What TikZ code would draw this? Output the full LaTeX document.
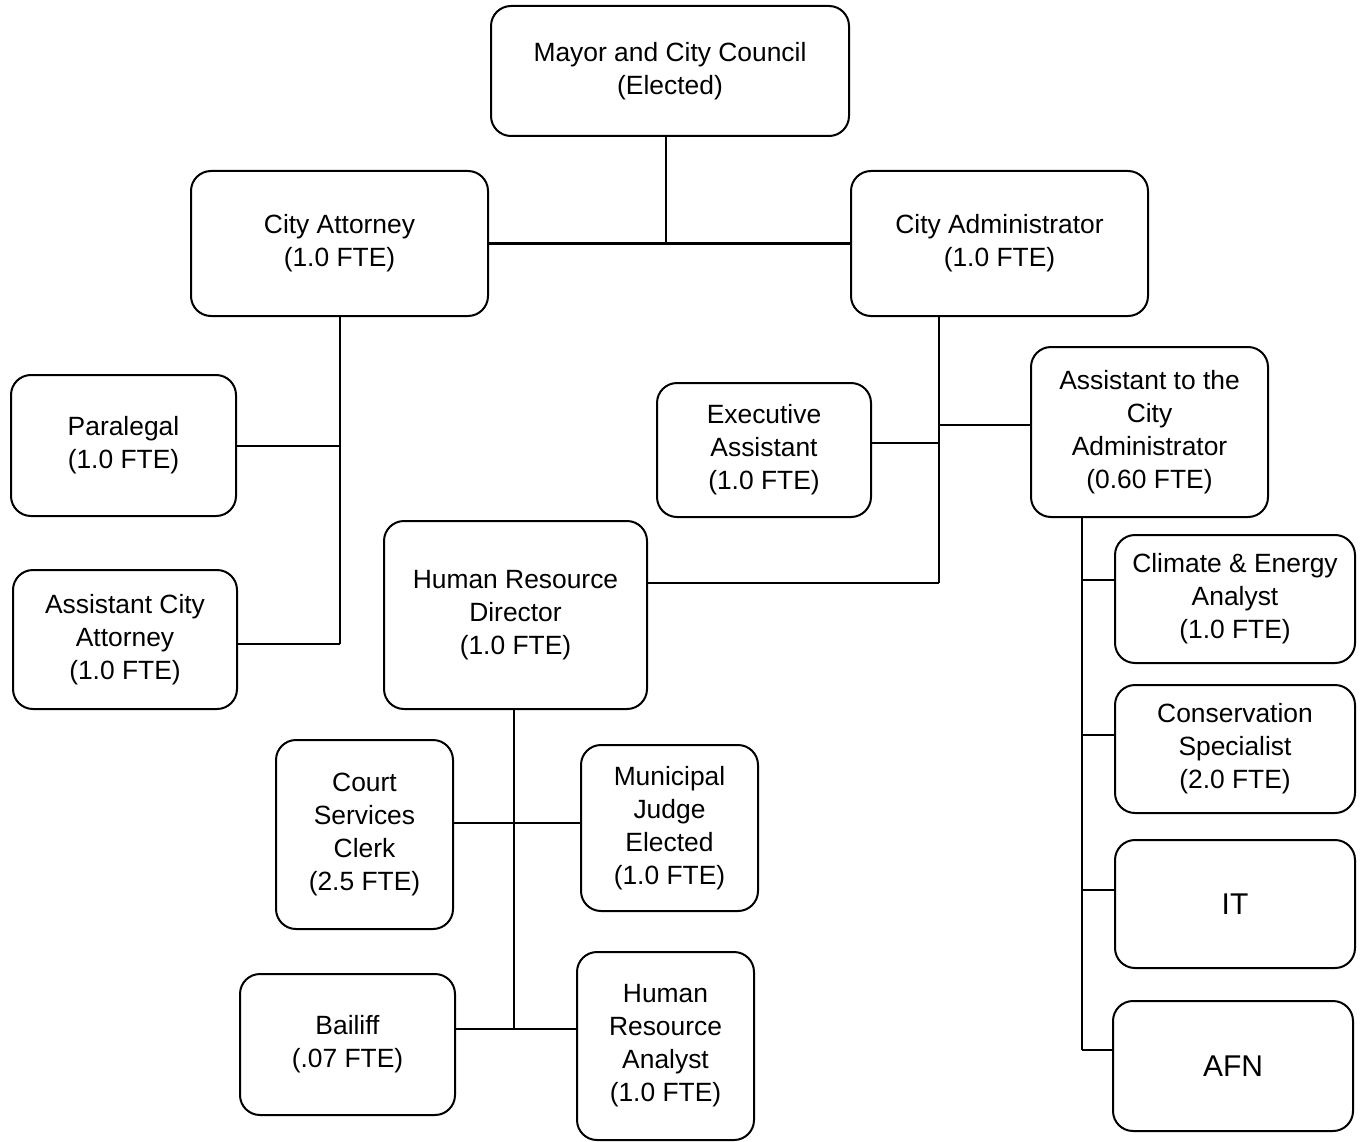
\documentclass[tikz,border=0pt]{standalone}
\usepackage{fontspec}
\setmainfont{Liberation Sans}
\usetikzlibrary{calc}
\begin{document}
\begin{tikzpicture}[x=0.75pt,y=-0.75pt,
  orgbox/.style={draw, line width=1.5pt, rounded corners=15pt, inner sep=0pt, align=center,
    font=\fontsize{19.8}{24.8}\selectfont},
  bigtext/.style={font=\fontsize{22.5}{27}\selectfont},
  link/.style={line width=1.5pt}]
\useasboundingbox (0,0) rectangle (1362,1141);
\node[orgbox, minimum width=268.5pt, minimum height=97.5pt] (mayor) at (670,71) {Mayor and City Council\\(Elected)};
\node[orgbox, minimum width=222.75pt, minimum height=108.75pt] (att) at (339.5,243.5) {City Attorney\\(1.0 FTE)};
\node[orgbox, minimum width=222.75pt, minimum height=108.75pt] (adm) at (999.5,243.5) {City Administrator\\(1.0 FTE)};
\node[orgbox, minimum width=168.75pt, minimum height=105.75pt] (para) at (123.5,445.5) {Paralegal\\(1.0 FTE)};
\node[orgbox, minimum width=168pt, minimum height=104.25pt] (aca) at (125,639.5) {Assistant City\\Attorney\\(1.0 FTE)};
\node[orgbox, minimum width=160.5pt, minimum height=100.5pt] (exec) at (764,450) {Executive\\Assistant\\(1.0 FTE)};
\node[orgbox, minimum width=177.75pt, minimum height=127.5pt] (asst) at (1149.5,432) {Assistant to the\\City\\Administrator\\(0.60 FTE)};
\node[orgbox, minimum width=197.25pt, minimum height=141pt] (hr) at (515.5,615) {Human Resource\\Director\\(1.0 FTE)};
\node[orgbox, minimum width=180pt, minimum height=96pt] (clim) at (1235,599) {Climate \& Energy\\Analyst\\(1.0 FTE)};
\node[orgbox, minimum width=180pt, minimum height=96pt] (cons) at (1235,749) {Conservation\\Specialist\\(2.0 FTE)};
\node[orgbox, bigtext, minimum width=180pt, minimum height=96pt] (it) at (1235,904) {IT};
\node[orgbox, bigtext, minimum width=180pt, minimum height=97.5pt] (afn) at (1233,1066) {AFN};
\node[orgbox, minimum width=132.75pt, minimum height=141.75pt] (court) at (364.5,834.5) {Court\\Services\\Clerk\\(2.5 FTE)};
\node[orgbox, minimum width=132.75pt, minimum height=124.5pt] (judge) at (669.5,828) {Municipal\\Judge\\Elected\\(1.0 FTE)};
\node[orgbox, minimum width=161.25pt, minimum height=105.75pt] (bail) at (347.5,1044.5) {Bailiff\\(.07 FTE)};
\node[orgbox, minimum width=132.75pt, minimum height=141pt] (hra) at (665.5,1046) {Human\\Resource\\Analyst\\(1.0 FTE)};

% Mayor
\coordinate (mS) at ($(mayor.south)+(-4,0)$);
\draw[link] (mS) -- (mS |- att.east);
\draw[link] (att.east) -- (adm.west);
% City Attorney
\draw[link] (att.south) -- ($(att.south |- aca.east)+(0,4)$);
\draw[link] (para.east) -- (para.east -| att.south);
\draw[link] ($(aca.east)+(0,4)$) -- ($(aca.east -| att.south)+(0,4)$);
% City Administrator
\coordinate (admS) at ($(adm.south west)+(89,0)$);
\coordinate (hrj) at ($(hr.east)+(0,-32)$);
\draw[link] (admS) -- (admS |- hrj);
\draw[link] (hrj) -- (hrj -| admS);
\coordinate (exj) at ($(exec.east)+(0,-7)$);
\draw[link] (exj) -- (exj -| admS);
\coordinate (asj) at ($(asst.west)+(0,-7)$);
\draw[link] (asj) -- (asj -| admS);
% Assistant to the City Administrator
\coordinate (asS) at ($(asst.south west)+(52,0)$);
\coordinate (clj) at ($(clim.west)+(0,-19)$);
\coordinate (coj) at ($(cons.west)+(0,-14)$);
\coordinate (itj) at ($(it.west)+(0,-14)$);
\coordinate (afj) at ($(afn.west)+(0,-16)$);
\draw[link] (asS) -- (asS |- afj);
\draw[link] (clj) -- (clj -| asS);
\draw[link] (coj) -- (coj -| asS);
\draw[link] (itj) -- (itj -| asS);
\draw[link] (afj) -- (afj -| asS);
% Human Resource Director
\coordinate (hS) at ($(hr.south)+(-2,0)$);
\coordinate (cj) at ($(court.east)+(0,-12)$);
\coordinate (bj) at ($(bail.east)+(0,-16)$);
\draw[link] (hS) -- (hS |- bj);
\draw[link] (cj) -- (cj -| judge.west);
\draw[link] (bj) -- (bj -| hra.west);
\end{tikzpicture}
\end{document}
